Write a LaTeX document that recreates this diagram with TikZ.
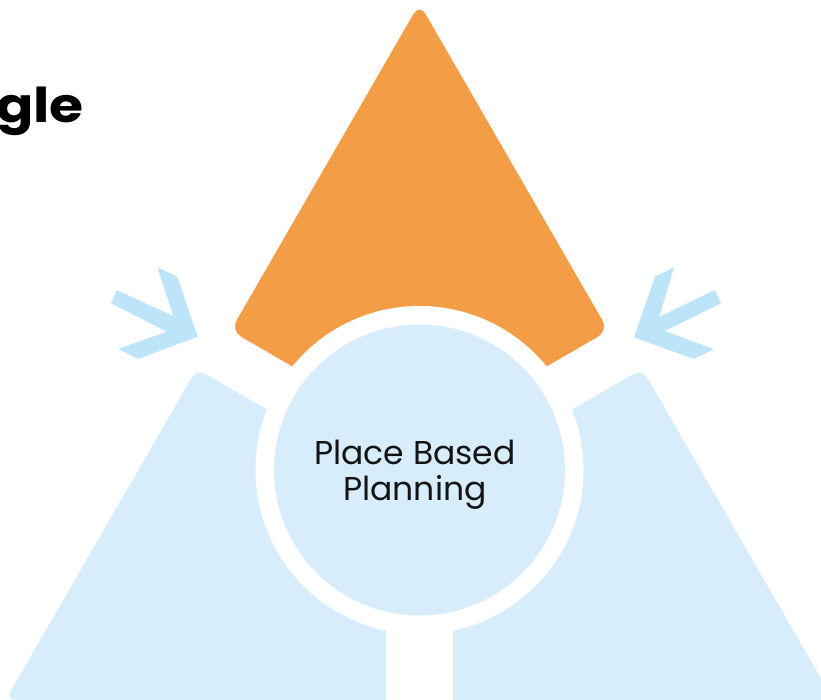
\documentclass[tikz,border=0pt]{standalone}
\usepackage{fontspec}
\newfontfamily\popfont{Poppins}
\newfontfamily\popwide{Poppins}[FakeStretch=1.15]
\definecolor{orng}{RGB}{243,157,71}
\definecolor{skyb}{RGB}{216,237,251}
\definecolor{chevb}{RGB}{190,228,249}
\definecolor{inkc}{RGB}{20,20,20}
\begin{document}
\begin{tikzpicture}[x=1pt,y=-1pt,
  sector/.style={fill=#1},
  ring/.style={fill=white},
  hub/.style={fill=skyb},
  chevron/.style={fill=chevb},
  hubtext/.style={font=\popfont\fontsize{33}{36.5}\selectfont, text=inkc, align=center, inner sep=0pt},
  titletext/.style={font=\popwide\bfseries\fontsize{48}{56}\selectfont, text=black, inner sep=0pt}]
\useasboundingbox (0,0) rectangle (821,700);
\clip (0,0) rectangle (821,700);
% top orange sector
\fill[sector=orng, rounded corners=12pt] (419.5,439.8) -- (230.6,330.7) -- (419.5,3.5) -- (608.4,330.7) -- cycle;
% bottom-left sector
\fill[sector=skyb, rounded corners=10pt] (386,700) -- (5.5,700) -- (196.7,368.9) -- (386,478.2) -- (386,700);
% bottom-right sector
\fill[sector=skyb, rounded corners=10pt] (453,700) -- (833.5,700) -- (642.3,368.9) -- (453,478.2) -- (453,700);
% white ring and hub
\fill[ring] (419.5,470) circle (164);
\fill[hub] (419.5,470) circle (145.5);
\node[hubtext] (hub) at (415,474.5) {Place Based\\Planning};
% chevrons
\fill[chevron] (116.7,290) -- (173.3,316) -- (157.3,267.3) -- (177.3,276.7) -- (197.7,336.7) -- (138.3,359) -- (118.3,349) -- (166.7,331.7) -- (111,303.3) -- cycle;
\fill[chevron] (674,267.3) -- (659.3,316.7) -- (715,290) -- (721,303.3) -- (665,331) -- (714,349.3) -- (694,359) -- (634,337.3) -- (655,276.7) -- cycle;
% title fragment
\node[titletext, anchor=base east] (title) at (84,123) {gle};
\end{tikzpicture}
\end{document}
